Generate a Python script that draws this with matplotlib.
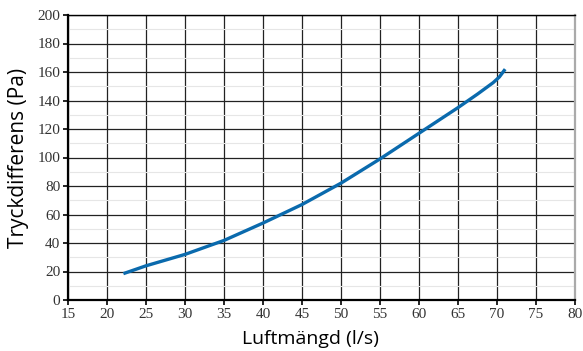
import numpy as np
import matplotlib.pyplot as plt

# curve
flow = [22.1, 25, 30, 35, 40, 45, 50, 55, 60, 65, 67.5, 69.5, 70.3, 71.05]
dp = [18.5, 24, 32, 41.8, 54, 67, 82, 99, 117, 135, 144.5, 152.5, 156.5, 162]

x_ticks = list(range(15, 81, 5))
y_ticks = list(range(0, 201, 20))
y_minor = list(range(10, 200, 20))


def main():
    fig = plt.figure(figsize=(5.83, 3.51), dpi=100)
    ax = fig.add_axes([68 / 583, 51 / 351, 507 / 583, 285 / 351])

    ax.set_xlim(15, 80)
    ax.set_ylim(0, 200)
    ax.set_xticks(x_ticks)
    ax.set_yticks(y_ticks)
    ax.set_yticks(y_minor, minor=True)

    ax.grid(which="major", color="#222222", linewidth=0.9)
    ax.grid(which="minor", axis="y", color="#e6e6e6", linewidth=0.8)
    ax.tick_params(axis="y", which="minor", length=0)
    ax.tick_params(which="major", direction="out", length=3.5, width=1.2,
                   labelsize=11, colors="black", pad=2)
    ax.set_axisbelow(True)

    for lbl in ax.get_xticklabels() + ax.get_yticklabels():
        lbl.set_fontfamily("Liberation Serif")
        lbl.set_color("#333333")

    for side in ["left", "bottom"]:
        ax.spines[side].set_linewidth(1.6)
    ax.spines["top"].set_linewidth(1.0)
    ax.spines["right"].set_linewidth(1.6)
    ax.spines["right"].set_color("#aaaaaa")

    ax.plot(flow, dp, color="#0a6aad", linewidth=2.4, solid_capstyle="butt")

    ax.set_xlabel("Luftmängd (l/s)", fontfamily="Open Sans", fontsize=14, labelpad=7)
    ax.xaxis.set_label_coords(0.478, -0.105)
    ax.set_ylabel("Tryckdifferens (Pa)", fontfamily="Open Sans", fontsize=15, labelpad=6)

    fig.savefig("out.png", dpi=100)


if __name__ == "__main__":
    main()
